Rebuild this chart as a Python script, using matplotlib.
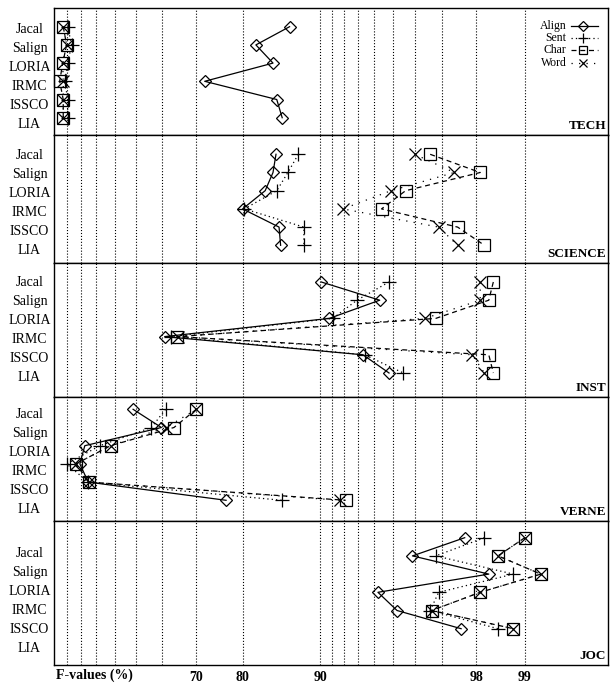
import matplotlib.pyplot as plt
import numpy as np

plt.rcParams['font.family'] = ['Liberation Serif', 'DejaVu Serif']

# data
systems = ['Jacal', 'Salign', 'LORIA', 'IRMC', 'ISSCO', 'LIA']
corpora = ['TECH', 'SCIENCE', 'INST', 'VERNE', 'JOC']
methods = ['Align', 'Sent', 'Char', 'Word']

tech_align = [86.8, 82.2, 84.7, 72.2, 85.2, 85.9]
tech_sent = [10.8, 13.7, 10.8, 8.7, 10.8, 10.8]
tech_char = [7.4, 10.0, 7.0, 4.6, 7.4, 7.4]
tech_word = [7.4, 10.0, 7.0, 7.4, 7.4, 7.4]

science_align = [85.1, 84.7, 83.6, 80.0, 85.5, 85.7]
science_sent = [87.8, 86.6, 85.2, 80.3, 88.4, 88.4]
science_char = [96.6, 98.1, 95.6, 94.4, 97.5, 98.2]
science_word = [96.0, 97.4, 94.9, 91.9, 96.9, 97.5]

inst_align = [90.1, 94.3, 90.8, 60.8, 93.3, 94.8]
inst_sent = [94.8, 92.9, 91.1, 63.0, 93.4, 95.5]
inst_char = [98.4, 98.3, 96.8, 64.7, 98.3, 98.4]
inst_word = [98.1, 98.1, 96.4, 65.0, 97.9, 98.2]

verne_align = [48.7, 59.7, 22.8, 19.5, 25.0, 76.9]
verne_sent = [61.1, 56.1, 32.0, 10.0, 25.0, 85.9]
verne_char = [70.1, 63.8, 37.9, 16.8, 25.6, 92.1]
verne_word = [70.1, 61.3, 37.9, 16.8, 25.6, 91.7]

joc_align = [97.7, 95.9, 98.3, 94.2, 95.2, 97.6]
joc_sent = [98.2, 96.8, 98.8, 96.9, 96.6, 98.5]
joc_char = [99.0, 98.5, 99.25, 98.1, 96.65, 98.8]
joc_word = [99.0, 98.5, 99.25, 98.1, 96.65, 98.8]

grid_x = [10, 20, 30, 40, 50, 60, 70, 80, 90, 91, 92, 93, 94, 95, 96, 97, 98, 99]
shown_x = [70, 80, 90, 98, 99]

table = {
    'TECH': [tech_align, tech_sent, tech_char, tech_word],
    'SCIENCE': [science_align, science_sent, science_char, science_word],
    'INST': [inst_align, inst_sent, inst_char, inst_word],
    'VERNE': [verne_align, verne_sent, verne_char, verne_word],
    'JOC': [joc_align, joc_sent, joc_char, joc_word],
}

# x scale: -log(101 - x)
def fwd(x):
    return -np.log10(np.clip(101 - np.asarray(x, dtype=float), 1e-6, None))

def inv(y):
    return 101 - 10 ** (-np.asarray(y, dtype=float))

styles = {
    'Align': dict(ls='-', marker='D', ms=6.5),
    'Sent': dict(ls=(0, (1, 2.5)), marker='+', ms=10),
    'Char': dict(ls=(0, (4, 3)), marker='s', ms=8.5),
    'Word': dict(ls=(0, (1, 5)), marker='x', ms=8),
}

W, H = 610, 685
fig = plt.figure(figsize=(W / 100, H / 100), dpi=100)

x_left, x_right = 54.1, 608
row_step = 18.2
lab_step = 19.0
# top, bottom, first data row, first label (pixels)
layout = {
    'TECH': (8.3, 135, 26.7, 28.3),
    'SCIENCE': (135, 262.7, 154.3, 154.3),
    'INST': (262.7, 397.3, 282, 280.7),
    'VERNE': (397.3, 521, 409.3, 413.3),
    'JOC': (521, 665, 537.7, 552),
}

for name in corpora:
    top, bot, r0, l0 = layout[name]
    ax = fig.add_axes([x_left / W, 1 - bot / H, (x_right - x_left) / W, (bot - top) / H])
    ax.set_xscale('function', functions=(fwd, inv))
    ax.set_xlim(0, 100)
    ax.set_ylim((bot - r0) / row_step, (top - r0) / row_step)

    rows = np.arange(len(systems))
    for m, vals in zip(methods, table[name]):
        st = styles[m]
        ax.plot(vals, rows[:len(vals)], color='black', lw=0.9, ls=st['ls'],
                marker=st['marker'], ms=st['ms'], mfc='none', mec='black',
                mew=0.9, clip_on=False)

    # row labels
    lab_pos = (l0 + lab_step * rows - r0) / row_step
    ax.set_yticks(lab_pos, labels=systems)
    ax.tick_params(axis='y', length=0, pad=17.7, labelsize=10)
    for t in ax.get_yticklabels():
        t.set_ha('center')

    ax.set_xticks(grid_x)
    if name == 'JOC':
        ax.set_xticklabels([str(v) if v in shown_x else '' for v in grid_x],
                           fontweight='bold', fontsize=10)
    else:
        ax.set_xticklabels([])
    ax.tick_params(axis='x', length=0, pad=4)
    ax.grid(axis='x', ls=':', color='black', lw=0.8)
    for sp in ax.spines.values():
        sp.set_linewidth(1.0)

    ax.text((606 - x_left) / (x_right - x_left), 9 / (bot - top), name,
            transform=ax.transAxes, ha='right', va='center',
            fontweight='bold', fontsize=9.5)

    # legend drawn by hand in the first panel
    if name == 'TECH':
        def ax_pos(px, py):
            return (px - x_left) / (x_right - x_left), (bot - py) / (bot - top)
        for i, m in enumerate(methods):
            py = 25.5 + 12.4 * i
            tx, ty = ax_pos(566.7, py)
            ax.text(tx, ty, m, transform=ax.transAxes, ha='right',
                    va='center', fontsize=8.5)
            x0, _ = ax_pos(571, py)
            x1, _ = ax_pos(598, py)
            xm, _ = ax_pos(583, py)
            st = styles[m]
            ax.plot([x0, x1], [ty, ty], transform=ax.transAxes, color='black',
                    lw=0.9, ls=st['ls'])
            ax.plot([xm], [ty], transform=ax.transAxes, color='black', ls='none',
                    marker=st['marker'], ms=st['ms'] * 0.75, mfc='none',
                    mec='black', mew=0.9)

fig.text(55.6 / W, 1 - 675.7 / H, 'F-values (%)', ha='left', va='center',
         fontweight='bold', fontsize=10)

fig.savefig('out.png', dpi=100)
